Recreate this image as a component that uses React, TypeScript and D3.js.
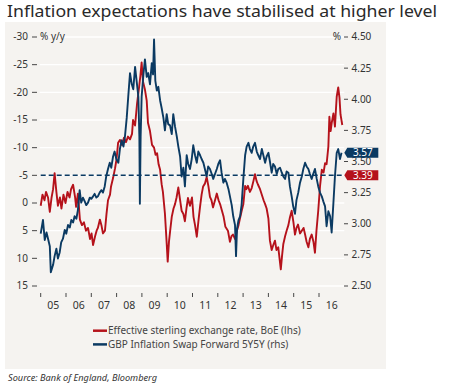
import React from 'react'
import * as d3 from 'd3'

// effective sterling exchange rate, % y/y (lhs, inverted) as [year, value]
const sterling: [number, number][] = [
    [2005.0, 0.5], [2005.07, -1.5], [2005.15, -0.5], [2005.21, -2], [2005.29, -1], [2005.36, 1.6],
    [2005.43, -1], [2005.49, -2.5], [2005.55, -5.4], [2005.62, -2], [2005.68, 0.5], [2005.76, -1],
    [2005.82, 1], [2005.9, -1.5], [2005.98, 0], [2006.06, -2], [2006.14, -1], [2006.2, -2.5],
    [2006.28, -3.3], [2006.36, -1], [2006.4, 0.7], [2006.47, -1.7], [2006.55, 3], [2006.63, 4],
    [2006.71, 3.5], [2006.79, 5], [2006.87, 4.5], [2006.95, 6.5], [2007.01, 5.5], [2007.07, 7.6],
    [2007.15, 6], [2007.21, 5], [2007.26, 4.5], [2007.34, 3], [2007.4, 4], [2007.46, 5.5],
    [2007.54, 5], [2007.6, 2], [2007.66, -0.5], [2007.74, -1.5], [2007.78, -3], [2007.86, -4.5],
    [2007.94, -6.3], [2008.0, -8], [2008.06, -10.9], [2008.13, -11.4], [2008.21, -10.5], [2008.29, -11.8],
    [2008.37, -11], [2008.45, -12], [2008.53, -11.5], [2008.61, -12.5], [2008.65, -15], [2008.73, -14],
    [2008.81, -18], [2008.89, -21], [2008.94, -23], [2008.99, -25.4], [2009.04, -22], [2009.12, -20.5],
    [2009.19, -18.5], [2009.24, -14.5], [2009.32, -13], [2009.4, -10.5], [2009.48, -10], [2009.54, -8.7],
    [2009.6, -9], [2009.66, -7], [2009.72, -6], [2009.78, -3.4], [2009.83, -2], [2009.91, 1.9],
    [2009.98, 7.3], [2010.02, 10.6], [2010.07, 7], [2010.13, 4.5], [2010.18, 2.5], [2010.25, 1],
    [2010.31, 0.2], [2010.37, -1], [2010.44, -2.8], [2010.51, -0.5], [2010.57, 1.4], [2010.64, 2],
    [2010.7, 3.3], [2010.76, 1], [2010.82, -0.9], [2010.9, 0.5], [2010.98, -1], [2011.04, 2.5],
    [2011.1, 4], [2011.17, 6.1], [2011.24, 3], [2011.3, 0.6], [2011.36, -1.5], [2011.42, -3],
    [2011.49, -3.5], [2011.56, -4.7], [2011.63, -3], [2011.69, -1.1], [2011.75, -0.5], [2011.81, 0.8],
    [2011.89, -0.5], [2011.96, -1.7], [2012.03, -0.5], [2012.09, 0.2], [2012.17, 1.5], [2012.23, 2.5],
    [2012.3, 4.3], [2012.4, 5], [2012.48, 7], [2012.54, 6], [2012.6, 5.7], [2012.68, 6.5],
    [2012.75, 5.1], [2012.82, 4], [2012.88, 2.7], [2012.94, 1.5], [2013.01, 0.2], [2013.08, -3.1],
    [2013.13, -2.5], [2013.19, -3.1], [2013.27, -2], [2013.34, -2.7], [2013.41, -4], [2013.47, -5.2],
    [2013.53, -4], [2013.59, -3.3], [2013.67, -2.5], [2013.74, -1.5], [2013.81, -0.5], [2013.87, 0.2],
    [2013.93, 1], [2014.0, 2.8], [2014.06, 6.8], [2014.13, 8.5], [2014.2, 7.5], [2014.26, 6.8],
    [2014.32, 8.5], [2014.39, 8], [2014.44, 10], [2014.49, 12], [2014.54, 9.5], [2014.59, 7.4],
    [2014.66, 6], [2014.72, 5], [2014.79, 4], [2014.85, 2.6], [2014.92, 1.4], [2014.99, 3.5],
    [2015.05, 5.7], [2015.11, 4.5], [2015.17, 3.9], [2015.25, 5.5], [2015.32, 5], [2015.39, 4.5],
    [2015.45, 5.7], [2015.51, 7], [2015.58, 8], [2015.64, 6.5], [2015.71, 5.7], [2015.78, 7],
    [2015.84, 9], [2015.9, 5], [2015.97, 1.4], [2016.04, -3], [2016.11, -6], [2016.18, -5.5],
    [2016.24, -7.2], [2016.3, -7], [2016.37, -10.2], [2016.41, -15.6], [2016.46, -13], [2016.5, -14.4],
    [2016.57, -16.2], [2016.63, -13.8], [2016.7, -19.2], [2016.76, -20.9], [2016.81, -19], [2016.85, -16],
    [2016.92, -14.1],
]

// GBP inflation swap forward 5Y5Y, % (rhs) as [year, value]
const swap5y5y: [number, number][] = [
    [2005.0, 2.92], [2005.09, 3.03], [2005.16, 2.87], [2005.23, 2.93], [2005.29, 2.88], [2005.36, 2.82],
    [2005.4, 2.61], [2005.49, 2.67], [2005.55, 2.74], [2005.62, 2.8], [2005.68, 2.72], [2005.75, 2.77],
    [2005.81, 2.85], [2005.88, 2.88], [2005.95, 2.95], [2006.01, 2.92], [2006.08, 2.99], [2006.15, 2.97],
    [2006.21, 3.03], [2006.28, 3.01], [2006.34, 3.06], [2006.41, 3.04], [2006.47, 3.11], [2006.54, 3.27],
    [2006.6, 3.17], [2006.67, 3.21], [2006.74, 3.18], [2006.8, 3.15], [2006.87, 3.17], [2006.94, 3.21],
    [2007.0, 3.2], [2007.07, 3.22], [2007.13, 3.24], [2007.2, 3.21], [2007.26, 3.22], [2007.33, 3.25],
    [2007.4, 3.27], [2007.46, 3.25], [2007.53, 3.3], [2007.59, 3.38], [2007.66, 3.44], [2007.73, 3.49],
    [2007.79, 3.45], [2007.86, 3.54], [2007.92, 3.58], [2007.99, 3.52], [2008.07, 3.49], [2008.13, 3.6],
    [2008.2, 3.67], [2008.27, 3.62], [2008.33, 3.7], [2008.4, 3.85], [2008.46, 4.02], [2008.53, 4.21],
    [2008.6, 4.12], [2008.66, 4.08], [2008.73, 4.26], [2008.79, 4.15], [2008.86, 4.02], [2008.9, 3.7],
    [2008.92, 3.16], [2008.95, 3.7], [2008.99, 4.02], [2009.06, 4.2], [2009.12, 4.32], [2009.19, 4.18],
    [2009.25, 4.21], [2009.32, 4.12], [2009.39, 4.29], [2009.44, 4.2], [2009.48, 4.48], [2009.53, 4.15],
    [2009.59, 4.07], [2009.65, 4.1], [2009.72, 3.99], [2009.78, 3.93], [2009.85, 3.85], [2009.91, 3.75],
    [2009.98, 3.88], [2010.04, 3.8], [2010.11, 3.79], [2010.18, 3.72], [2010.24, 3.88], [2010.31, 3.78],
    [2010.38, 3.7], [2010.44, 3.62], [2010.51, 3.54], [2010.57, 3.38], [2010.64, 3.45], [2010.7, 3.3],
    [2010.77, 3.55], [2010.83, 3.48], [2010.9, 3.44], [2010.97, 3.52], [2011.03, 3.63], [2011.1, 3.55],
    [2011.17, 3.49], [2011.23, 3.58], [2011.3, 3.55], [2011.36, 3.52], [2011.43, 3.49], [2011.49, 3.44],
    [2011.56, 3.38], [2011.62, 3.46], [2011.69, 3.44], [2011.76, 3.4], [2011.82, 3.36], [2011.89, 3.4],
    [2011.96, 3.44], [2012.02, 3.48], [2012.09, 3.51], [2012.15, 3.41], [2012.22, 3.33], [2012.28, 3.36],
    [2012.35, 3.33], [2012.42, 3.28], [2012.48, 3.22], [2012.55, 3.15], [2012.61, 3.06], [2012.68, 2.99],
    [2012.72, 2.74], [2012.76, 2.96], [2012.82, 3.03], [2012.88, 3.06], [2012.94, 3.15], [2013.01, 3.36],
    [2013.08, 3.55], [2013.14, 3.62], [2013.21, 3.65], [2013.27, 3.6], [2013.34, 3.57], [2013.4, 3.62],
    [2013.47, 3.65], [2013.54, 3.58], [2013.6, 3.55], [2013.67, 3.52], [2013.74, 3.6], [2013.8, 3.55],
    [2013.87, 3.49], [2013.93, 3.54], [2014.0, 3.57], [2014.06, 3.5], [2014.13, 3.41], [2014.19, 3.48],
    [2014.26, 3.46], [2014.33, 3.4], [2014.39, 3.44], [2014.46, 3.45], [2014.53, 3.41], [2014.59, 3.38],
    [2014.66, 3.36], [2014.72, 3.42], [2014.79, 3.41], [2014.85, 3.3], [2014.92, 3.22], [2014.98, 3.14],
    [2015.05, 3.08], [2015.11, 3.19], [2015.18, 3.25], [2015.25, 3.33], [2015.32, 3.38], [2015.38, 3.44],
    [2015.45, 3.49], [2015.51, 3.46], [2015.58, 3.44], [2015.64, 3.4], [2015.71, 3.36], [2015.77, 3.4],
    [2015.84, 3.44], [2015.91, 3.36], [2015.97, 3.3], [2016.04, 3.25], [2016.11, 3.22], [2016.17, 3.18],
    [2016.24, 3.14], [2016.3, 2.98], [2016.37, 3.1], [2016.44, 3.06], [2016.5, 2.93], [2016.57, 3.17],
    [2016.63, 3.38], [2016.7, 3.57], [2016.76, 3.6], [2016.83, 3.52], [2016.89, 3.57],
]

const years = [2005, 2006, 2007, 2008, 2009, 2010, 2011, 2012, 2013, 2014, 2015, 2016]
const leftTicks = [-30, -25, -20, -15, -10, -5, 0, 5, 10, 15]
const rightTicks = [4.5, 4.25, 4.0, 3.75, 3.5, 3.25, 3.0, 2.75, 2.5]
const refLevel = 3.39
const lastSwap = 3.57
const lastSterlingLabel = 3.39
const legendItems = [
    { name: 'Effective sterling exchange rate, BoE (lhs)', color: '#b5121b' },
    { name: 'GBP Inflation Swap Forward 5Y5Y (rhs)', color: '#0b3a62' },
]

const RED = '#b5121b'
const BLUE = '#0b3a62'
const FONT = "'Noto Sans', 'DejaVu Sans', sans-serif"

export default function App() {
    const top = 37
    const bottom = 286
    const x = d3.scaleLinear().domain([2005, 2017]).range([40.7, 344.3])
    const yL = d3.scaleLinear().domain([-30, 15]).range([top, bottom])
    const yR = d3.scaleLinear().domain([4.5, 2.5]).range([top, bottom])

    const redLine = d3.line<[number, number]>()
        .x((d) => x(d[0]))
        .y((d) => yL(d[1]))
    const blueLine = d3.line<[number, number]>()
        .x((d) => x(d[0]))
        .y((d) => yR(d[1]))

    const tagX = x(2017)
    const tag = (v: number, color: string, label: string) => {
        const cy = yR(v)
        const path = `M${tagX},${cy} L${tagX + 3},${cy - 5} L${tagX + 34},${cy - 5} L${tagX + 34},${cy + 5} L${tagX + 3},${cy + 5} Z`
        return (
            <g key={label + color}>
                <path d={path} fill={color} />
                <text x={tagX + 18.5} y={cy + 3.6} fill="#fff" fontSize={10} textAnchor="middle">{label}</text>
            </g>
        )
    }

    return (
        <svg width={450} height={384} style={{ position: 'absolute', left: 0, top: 0, fontFamily: FONT }}>
            <rect width={450} height={384} fill="#fff" />
            <text x={7} y={17} fontSize={15.5} fill="#2a2a2a" textLength={430} lengthAdjust="spacingAndGlyphs">
                Inflation expectations have stabilised at higher level
            </text>
            <rect x={5} y={22} width={381} height={347} fill="#f5f3f0" />

            {leftTicks.map((t) => (
                <line key={'g' + t} x1={x(2005) - 1} x2={x(2017)} y1={yL(t)} y2={yL(t)} stroke="#fff" strokeWidth={1.4} />
            ))}

            {leftTicks.map((t) => (
                <g key={'l' + t} fill="#333">
                    <line x1={32} x2={37} y1={yL(t)} y2={yL(t)} stroke="#333" strokeWidth={0.9} />
                    <text x={28} y={yL(t) + 3.4} fontSize={10} textAnchor="end">{t < 0 ? '-' + Math.abs(t) : t}</text>
                </g>
            ))}
            <text x={40} y={yL(-30) + 3.4} fontSize={10} fill="#333">% y/y</text>

            {rightTicks.map((t) => (
                <g key={'r' + t} fill="#333">
                    <line x1={344} x2={348} y1={yR(t)} y2={yR(t)} stroke="#333" strokeWidth={0.9} />
                    <text x={351.5} y={yR(t) + 3.4} fontSize={10}>{t.toFixed(2)}</text>
                </g>
            ))}
            <text x={341} y={yR(4.5) + 3.4} fontSize={10} fill="#333" textAnchor="end">%</text>

            {years.map((yr) => (
                <g key={yr}>
                    <line x1={x(yr)} x2={x(yr)} y1={293} y2={297} stroke="#333" strokeWidth={0.9} />
                    <text x={x(yr + 0.5)} y={308.5} fontSize={10.5} fill="#333" textAnchor="middle">
                        {String(yr).slice(2)}
                    </text>
                </g>
            ))}

            <path d={redLine(sterling) ?? ''} fill="none" stroke={RED} strokeWidth={1.9} strokeLinejoin="round" />
            <path d={blueLine(swap5y5y) ?? ''} fill="none" stroke={BLUE} strokeWidth={1.9} strokeLinejoin="round" />

            <line x1={x(2005)} x2={tagX} y1={yR(refLevel)} y2={yR(refLevel)} stroke={BLUE} strokeWidth={1.4} strokeDasharray="5,3" />

            {tag(lastSwap, BLUE, lastSwap.toFixed(2))}
            {tag(lastSterlingLabel, RED, lastSterlingLabel.toFixed(2))}

            {legendItems.map((d, i) => (
                <g key={d.name} transform={`translate(93, ${330.7 + i * 13.7})`}>
                    <line x1={0} x2={14} y1={0} y2={0} stroke={d.color} strokeWidth={2.5} />
                    <text x={15} y={3.5} fontSize={10} fill="#444">{d.name}</text>
                </g>
            ))}

            <text x={8} y={381} fontSize={9.2} fontStyle="italic" fill="#333">
                Source: Bank of England, Bloomberg
            </text>
        </svg>
    )
}
